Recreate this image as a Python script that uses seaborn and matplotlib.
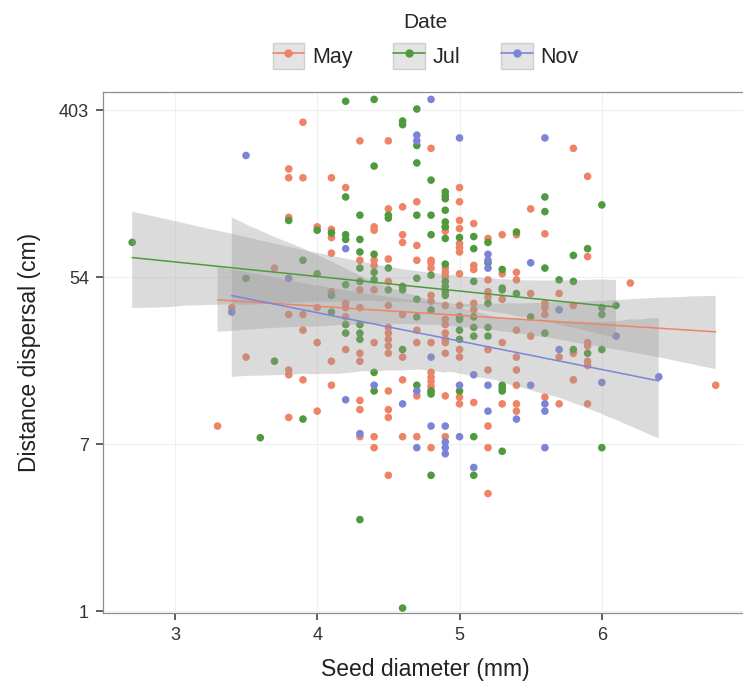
import numpy as np
import pandas as pd
import seaborn as sns
import matplotlib.pyplot as plt
from matplotlib.patches import Rectangle
from matplotlib.lines import Line2D

# seed diameter (mm) -> dispersal distances (cm), read per column
may = {3.3: [9.2], 3.4: [38], 3.5: [21], 3.7: [61],
       3.8: [200, 180, 112, 35, 18, 17, 10.2],
       3.9: [350, 180, 35, 29, 16],
       4.0: [100, 38, 25, 11],
       4.1: [180, 97, 88, 73, 46, 20, 15],
       4.2: [160, 40, 38, 34, 23],
       4.3: [280, 67, 47, 38, 22, 20, 12.5, 11.2, 8.1],
       4.4: [100, 96, 67, 63, 47, 25, 8.1, 7.1],
       4.5: [280, 124, 68, 52, 39, 30, 28, 26, 24, 22, 14, 11.2, 10.2, 5.1],
       4.6: [127, 91, 83, 35, 21, 16, 8.1],
       4.7: [135, 80, 67, 29, 25, 13.2, 8.1],
       4.8: [256, 67, 65, 61, 44, 41, 25, 17.5, 16.5, 15.7, 14.8, 14, 7.1],
       4.9: [100, 95, 61, 58, 55, 39, 33, 31, 28, 26, 25, 22, 13.2, 8.1],
       5.0: [160, 135, 108, 98, 82, 78, 74, 57, 39, 23, 21, 13, 12],
       5.1: [104, 63, 60, 40, 37, 12.2],
       5.2: [87, 53, 46, 43, 23, 18, 9.2, 7.1, 4.1],
       5.3: [91, 57, 42, 25, 12],
       5.4: [91, 58, 53, 29, 21, 18, 15, 12, 11],
       5.5: [124, 45, 27],
       5.6: [92, 40, 38, 35, 13],
       5.7: [45, 21, 12],
       5.8: [256, 39, 22, 16],
       5.9: [183, 70, 25, 24, 20, 19, 12],
       6.2: [51], 6.8: [15]}

jul = {2.7: [83], 3.5: [54], 3.6: [8], 3.7: [20],
       3.8: [108], 3.9: [67, 10],
       4.0: [96, 57], 4.1: [93, 44, 36],
       4.2: [450, 143, 91, 86, 50, 31, 28],
       4.3: [115, 86, 74, 61, 52, 31, 28, 26, 3.0],
       4.4: [460, 207, 72, 58, 53, 17.5, 14],
       4.5: [115, 111, 61, 47],
       4.6: [355, 340, 49, 47, 23, 1.04],
       4.7: [410, 265, 215, 115, 54, 42, 34, 15],
       4.8: [175, 115, 91, 56, 37, 14, 13.5, 5.1],
       4.9: [152, 145, 140, 122, 106, 100, 87, 64, 52, 49, 46, 44],
       5.0: [88, 34, 33, 29, 26, 14],
       5.1: [89, 77, 52, 34, 30, 27, 8.1, 5.1],
       5.2: [83, 65, 40, 30, 27],
       5.3: [60, 48, 47, 15, 14.5, 14, 6.8],
       5.4: [94, 45], 5.5: [34],
       5.6: [143, 120, 61, 28], 5.7: [53],
       5.8: [71, 52, 23], 5.9: [77, 22],
       6.0: [130, 38, 35, 23, 7.1], 6.1: [39]}

nov = {3.4: [36], 3.5: [235], 3.8: [54],
       4.2: [77, 12.6], 4.3: [8.4], 4.4: [15], 4.6: [12],
       4.7: [300, 280, 14, 7.1],
       4.8: [460, 21, 9.2],
       4.9: [9.2, 7.6, 7.1, 6.6],
       5.0: [290, 15, 8.1], 5.1: [17, 5.6],
       5.2: [72, 67, 61, 15, 11], 5.4: [10],
       5.5: [65, 15], 5.6: [290, 12, 11, 7.1],
       5.7: [37, 23], 6.0: [15.5], 6.1: [27], 6.4: [16.6]}

dates = ['May', 'Jul', 'Nov']
colors = {'May': '#EE8366', 'Jul': '#4E9A3C', 'Nov': '#7C84D8'}
y_breaks = [0, 2, 4, 6]  # natural log
y_labels = ['1', '7', '54', '403']
x_breaks = [3, 4, 5, 6, 7]
x_labels = ['3', '4', '5', '6', '']

rows = []
for name, d in zip(dates, [may, jul, nov]):
    for diam, vals in d.items():
        for v in vals:
            rows.append((diam, v, name))
df = pd.DataFrame(rows, columns=['diameter', 'distance', 'Date'])
df['logdist'] = np.log(df['distance'])

sns.set_style('white')
plt.rcParams['font.family'] = ['Liberation Sans', 'DejaVu Sans']

fig = plt.figure(figsize=(7.43, 6.86), dpi=100)
ax = fig.add_axes([103/743, 73/686, 644/743, 521/686])

sns.scatterplot(data=df, x='diameter', y='logdist', hue='Date', palette=colors,
                s=30, linewidth=0, ax=ax, legend=False, zorder=1)

for name in dates:
    sub = df[df['Date'] == name]
    n0 = len(ax.collections)
    sns.regplot(data=sub, x='diameter', y='logdist', scatter=False, ci=95,
                n_boot=1000, seed=3, truncate=True, ax=ax,
                line_kws={'color': colors[name], 'lw': 1.1})
    for c in ax.collections[n0:]:
        c.set_facecolor('#9a9a9a')
        c.set_alpha(0.35)
        c.set_edgecolor('none')

ax.set_xlim(2.495, 7.02)
ax.set_ylim(-0.02, 6.22)
ax.set_xticks(x_breaks)
ax.set_xticklabels(x_labels)
ax.set_yticks(y_breaks)
ax.set_yticklabels(y_labels)
ax.grid(True, color='#edf1f5', lw=0.8)
ax.set_axisbelow(True)
for s in ax.spines.values():
    s.set_color('#8c8c96')
    s.set_linewidth(0.9)
ax.tick_params(direction='out', length=5, width=1.1, color='#333333', pad=5,
               labelsize=13, labelcolor='#333333', left=True, bottom=True)
ax.set_xlabel('Seed diameter (mm)', fontsize=16.5, color='#222222', labelpad=10)
ax.set_ylabel('Distance dispersal (cm)', fontsize=16.5, color='#222222', labelpad=13)

handles = []
for name in dates:
    box = Rectangle((0, 0), 1, 1, facecolor='#e4e4e4', edgecolor='#cfcfcf')
    ln = Line2D([], [], color=colors[name], lw=1.2, marker='o', markersize=5)
    handles.append((box, ln))
fig.legend(handles, dates, loc='upper center', bbox_to_anchor=(0.573, 1.012),
           ncol=3, title='Date', frameon=False, fontsize=15.5, title_fontsize=15,
           handlelength=1.45, handleheight=1.45, handletextpad=0.37,
           columnspacing=1.9, borderaxespad=0.6)

fig.savefig('out.png', dpi=100)
